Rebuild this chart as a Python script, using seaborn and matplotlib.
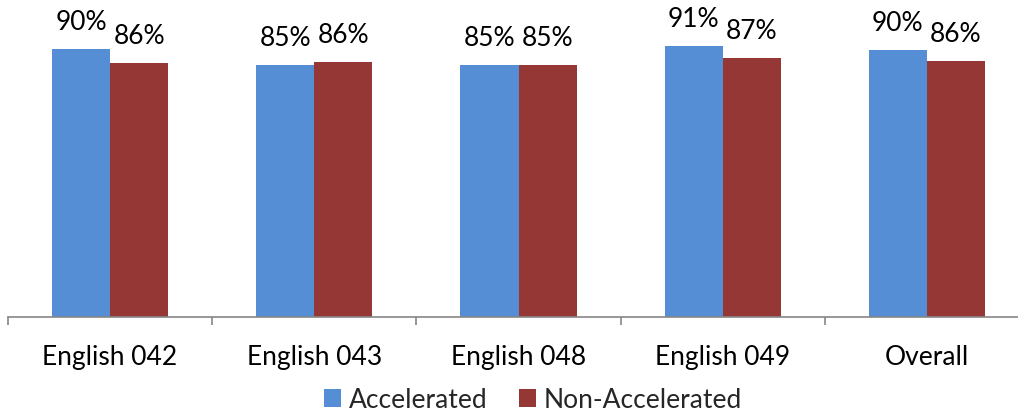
import matplotlib
matplotlib.use("Agg")
import matplotlib.pyplot as plt
import seaborn as sns
import pandas as pd
from matplotlib.patches import Patch
from matplotlib.ticker import FixedLocator

categories = ["English 042", "English 043", "English 048", "English 049", "Overall"]
accelerated = [90.2, 84.8, 84.8, 91.2, 89.9]
non_accelerated = [85.5, 85.9, 84.8, 87.1, 86.2]
series_names = ["Accelerated", "Non-Accelerated"]
colors = ["#558ED5", "#953735"]

df = pd.DataFrame({
    "category": categories * 2,
    "series": [series_names[0]] * len(categories) + [series_names[1]] * len(categories),
    "value": accelerated + non_accelerated,
})

sns.set_theme(style="white")
plt.rcParams["font.family"] = ["Lato", "DejaVu Sans"]

W, H = 1018, 413
fig = plt.figure(figsize=(W / 100, H / 100), dpi=100)
ax_left = 8 / W
ax_width = (1029 - 8) / W
ax_bottom = (H - 317) / H
ax_height = 317 / H
ax = fig.add_axes([ax_left, ax_bottom, ax_width, ax_height])

sns.barplot(data=df, x="category", y="value", hue="series", order=categories,
            hue_order=series_names, palette=colors, width=0.57, saturation=1,
            linewidth=0, ax=ax, legend=False)

ax.set_xlim(-0.5, len(categories) - 0.5)
ax.set_ylim(0, 317 / 2.97)

for container in ax.containers:
    for bar in container:
        h = bar.get_height()
        ax.annotate(f"{h:.0f}%", (bar.get_x() + bar.get_width() / 2, h),
                    xytext=(0, 19), textcoords="offset points",
                    ha="center", va="center", fontsize=19, color="black")

for s in ["top", "right", "left"]:
    ax.spines[s].set_visible(False)
ax.spines["bottom"].set_color("#868686")
ax.spines["bottom"].set_linewidth(1.2)
ax.set_yticks([])
ax.set_xlabel("")
ax.set_ylabel("")
ax.tick_params(axis="x", which="major", bottom=False, length=0, pad=20, labelsize=19, labelcolor="black")
ax.xaxis.set_minor_locator(FixedLocator([i - 0.5 for i in range(len(categories) + 1)]))
ax.tick_params(axis="x", which="minor", bottom=True, length=6, width=1.2, color="#868686", direction="out")

handles = [Patch(facecolor=c, edgecolor="none", label=n) for c, n in zip(colors, series_names)]
fig.legend(handles=handles, loc="center", bbox_to_anchor=(533 / W, 1 - 400 / H),
           ncol=2, frameon=False, fontsize=19, handlelength=0.65, handleheight=0.65,
           handletextpad=0.3, columnspacing=1.2, borderaxespad=0, borderpad=0)

fig.savefig("out.png", dpi=100)
